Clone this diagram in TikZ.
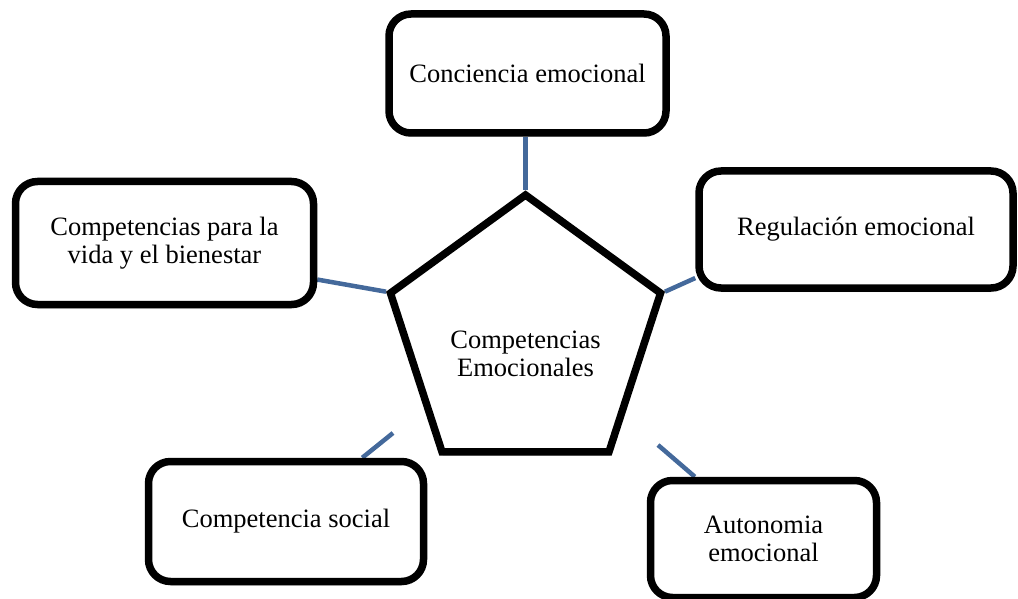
\documentclass[tikz,border=0pt]{standalone}
\usepackage{fontspec}
\setmainfont{Liberation Serif}
\usetikzlibrary{shapes.geometric,shadows,calc,backgrounds}
\definecolor{linkblue}{HTML}{44699B}
\begin{document}
\begin{tikzpicture}[x=1pt,y=-1pt,
  txt/.style={align=center, font=\fontsize{26.5}{28}\selectfont},
  box/.style={txt, draw=black, line width=7.5pt, rounded corners=22pt, fill=white, inner sep=0pt,
    drop shadow={shadow xshift=1pt, shadow yshift=-4pt, opacity=0.25}},
  pentshape/.style={regular polygon, regular polygon sides=5, minimum size=284pt, inner sep=0pt,
    draw=black, line width=7.5pt, fill=white,
    drop shadow={shadow xshift=1pt, shadow yshift=-4pt, opacity=0.25}},
  link/.style={draw=linkblue, line width=4.5pt}]
\useasboundingbox (0,0) rectangle (1018,599);
% central pentagon
\node[pentshape] (pent) at (525.5,337) {};
\node[txt] (penttext) at (525.5,354) {Competencias\\Emocionales};
% surrounding boxes
\node[box, minimum width=277pt, minimum height=119pt] (conc) at (527.5,73.5) {Conciencia emocional};
\node[box, minimum width=314pt, minimum height=117pt] (reg) at (856,229.5) {Regulación emocional};
\node[box, minimum width=298pt, minimum height=123pt] (vida) at (164.5,243) {Competencias para la\\vida y el bienestar};
\node[box, minimum width=275pt, minimum height=120pt] (soc) at (286,521.5) {Competencia social};
\node[box, minimum width=226pt, minimum height=117pt] (auto) at (763.5,539) {Autonomia\\emocional};
% free ends
\coordinate (socfree) at (393,433);
\coordinate (autofree) at (658,445);
\begin{pgfonlayer}{background}
\draw[link] (pent.corner 1 |- conc.south) -- (pent.corner 1);
\draw[link] ($(reg.south west)!0.11!(reg.north west)$) -- (pent.corner 5);
\draw[link] ($(vida.south east)!0.22!(vida.north east)$) -- (pent.corner 2);
\draw[link] (socfree) -- ($(soc.north west)!0.77!(soc.north east)$);
\draw[link] (autofree) -- ($(auto.north west)!0.206!(auto.north east)$);
\end{pgfonlayer}
\end{tikzpicture}
\end{document}
